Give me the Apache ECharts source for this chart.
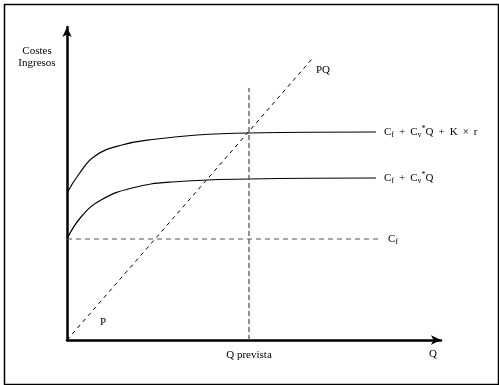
<!DOCTYPE html>
<html><head><meta charset="utf-8">
<script src="https://cdn.jsdelivr.net/npm/echarts@6/dist/echarts.min.js"></script>
<style>html,body{margin:0;padding:0;background:#fff}#c{width:499px;height:385px}</style>
</head><body><div id="c"></div>
<script>
// Conceptual chart: costs and revenues vs quantity (unitless scale)
const qPrevista = 182;
const fixedCostLine = [[0, 101], [311, 101]];
const totalCostX = [0, 14, 34, 65, 105, 182, 309];
const totalCostY = [101, 123, 140, 152, 158, 161, 162];
const costPlusCapitalX = [0, 12, 28, 55, 90, 130, 182, 309];
const costPlusCapitalY = [147, 166, 184, 195, 201, 205, 207, 208];
const revenueLine = [[0, 0], [245, 281]];
const qPrevistaLine = [[182, 0], [182, 252]];
const pLabelPoint = [36, 18];
const xAxisMax = 374;
const yAxisMax = 313;

const font = '"Liberation Serif", "DejaVu Serif", serif';
const pair = (xs, ys) => xs.map((x, i) => [x, ys[i]]);
const rich = {
  n: { fontSize: 11, fontFamily: font, color: '#000', lineHeight: 14, verticalAlign: 'middle' },
  p: { fontSize: 11, fontFamily: font, color: '#000', lineHeight: 14, verticalAlign: 'middle', padding: [0, 5, 0, 5] },
  s: { fontSize: 8, fontFamily: font, color: '#000', verticalAlign: 'bottom', lineHeight: 9, padding: [5, 0, 0, 0] },
  u: { fontSize: 8, fontFamily: font, color: '#000', verticalAlign: 'top', lineHeight: 9 }
};

const chart = echarts.init(document.getElementById('c'), null, { renderer: 'canvas' });
chart.setOption({
  animation: false,
  backgroundColor: '#fff',
  grid: { left: 67, top: 27, right: 58, bottom: 45, containLabel: false },
  xAxis: {
    type: 'value', min: 0, max: xAxisMax,
    axisLine: { show: true, symbol: ['none', 'arrow'], symbolSize: [7, 10], lineStyle: { color: '#000', width: 2.5 } },
    axisTick: { show: false },
    splitLine: { show: false },
    axisLabel: { show: true, customValues: [qPrevista], formatter: () => 'Q prevista', margin: 10, color: '#000', fontSize: 11, fontFamily: font },
    name: 'Q', nameLocation: 'end', nameGap: -8,
    nameTextStyle: { color: '#000', fontSize: 11, fontFamily: font, align: 'center', verticalAlign: 'top', padding: [9, 0, 0, 0] }
  },
  yAxis: {
    type: 'value', min: 0, max: yAxisMax,
    axisLine: { show: true, symbol: ['none', 'arrow'], symbolSize: [7, 10], lineStyle: { color: '#000', width: 2.5 } },
    axisTick: { show: false },
    splitLine: { show: false },
    axisLabel: { show: false },
    name: 'Costes\nIngresos', nameLocation: 'end', nameGap: -42,
    nameTextStyle: { color: '#000', fontSize: 11, fontFamily: font, align: 'center', lineHeight: 12, padding: [0, 60, 0, 0] }
  },
  series: [
    {
      type: 'line', data: pair(costPlusCapitalX, costPlusCapitalY), smooth: 0.45, showSymbol: false,
      lineStyle: { color: '#000', width: 1.2 },
      endLabel: { show: true, distance: 8, formatter: '{n|C}{s|f}{p|+}{n|C}{s|v}{u|*}{n|Q}{p|+}{n|K}{p|×}{n|r}', rich }
    },
    {
      type: 'line', data: pair(totalCostX, totalCostY), smooth: 0.45, showSymbol: false,
      lineStyle: { color: '#000', width: 1.2 },
      endLabel: { show: true, distance: 8, formatter: '{n|C}{s|f}{p|+}{n|C}{s|v}{u|*}{n|Q}', rich }
    },
    {
      type: 'line', data: fixedCostLine, showSymbol: false,
      lineStyle: { color: '#555', width: 1.2, type: [5, 4] },
      endLabel: { show: true, distance: 10, formatter: '{n|C}{s|f}', rich }
    },
    {
      type: 'line', data: revenueLine, showSymbol: false,
      lineStyle: { color: '#000', width: 1, type: [4, 4] },
      endLabel: { show: true, distance: 0, offset: [4, 11], formatter: '{n|PQ}', rich },
      markPoint: {
        symbol: 'circle', symbolSize: 0,
        data: [{ coord: pLabelPoint, label: { show: true, position: 'inside', formatter: 'P', color: '#000', fontSize: 11, fontFamily: font } }]
      }
    },
    {
      type: 'line', data: qPrevistaLine, showSymbol: false,
      lineStyle: { color: '#555', width: 1.3, type: [5, 3] }
    }
  ],
  graphic: [
    { type: 'rect', left: 2, top: 2, shape: { width: 494, height: 380 }, style: { fill: 'none', stroke: '#000', lineWidth: 1.5 }, z: 100 }
  ]
});
</script></body></html>
